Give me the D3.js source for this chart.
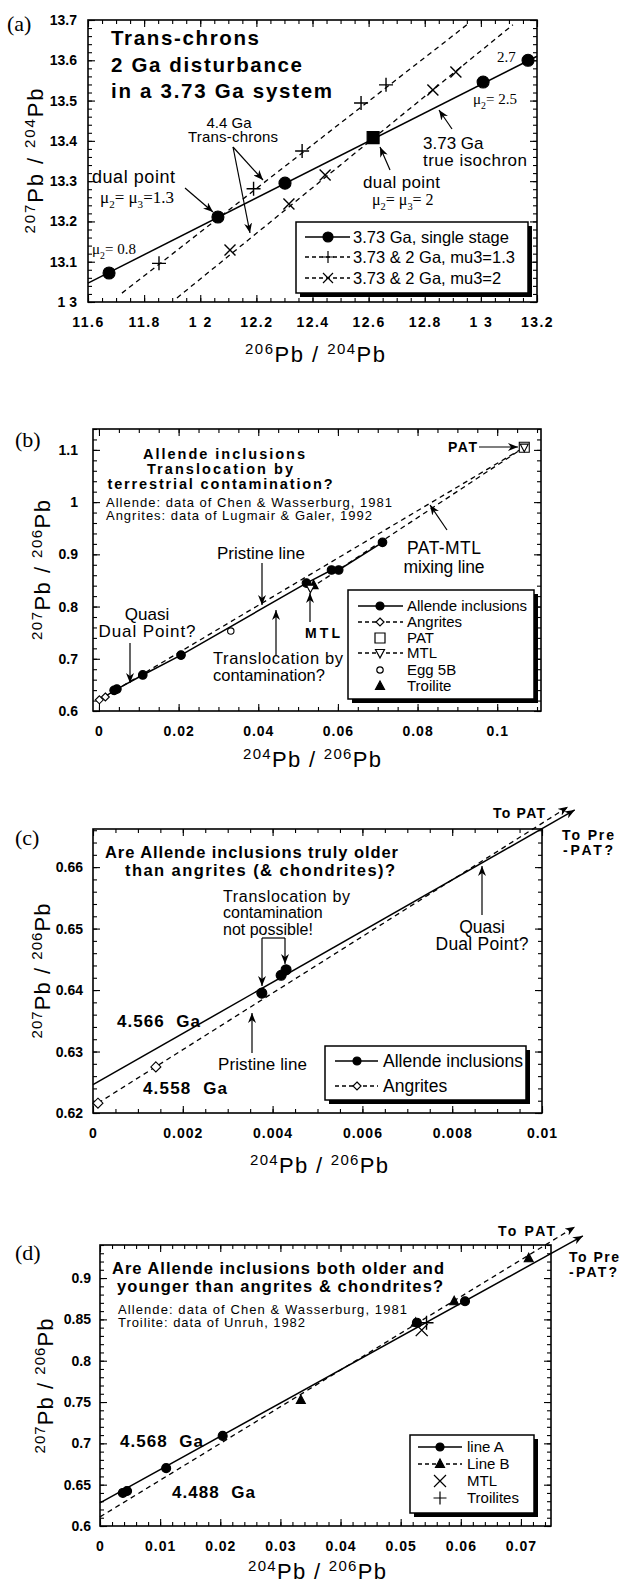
<!DOCTYPE html>
<html>
<head>
<meta charset="utf-8">
<script src="https://cdn.jsdelivr.net/npm/d3@7"></script>
<style>
body { margin: 0; background: #fff; }
svg { display: block; }
</style>
</head>
<body>
<div id="chart"></div>
<script>
// ---------- panel (a): trans-chrons, 207Pb/204Pb vs 206Pb/204Pb
const aXTicks = [11.6, 11.8, 12, 12.2, 12.4, 12.6, 12.8, 13, 13.2];
const aXLabels = ["11.6", "11.8", "1 2", "12.2", "12.4", "12.6", "12.8", "1 3", "13.2"];
const aYTicks = [13, 13.1, 13.2, 13.3, 13.4, 13.5, 13.6, 13.7];
const aYLabels = ["1 3", "13.1", "13.2", "13.3", "13.4", "13.5", "13.6", "13.7"];
const aSingleStage = [[11.675, 13.072], [12.063, 13.211], [12.302, 13.295], [13.008, 13.546], [13.168, 13.600]];
const aDualPoint = [[12.616, 13.408]];
const aSingleFit = [[11.6, 13.047], [13.2, 13.610]];
const aMu13 = [[11.853, 13.096], [12.19, 13.281], [12.363, 13.375], [12.573, 13.494], [12.662, 13.539]];
const aMu13Fit = [[11.721, 13.022], [12.95, 13.688]];
const aMu2 = [[12.106, 13.129], [12.316, 13.243], [12.445, 13.315], [12.829, 13.526], [12.911, 13.571]];
const aMu2Fit = [[11.917, 13.010], [13.114, 13.688]];
const aLegend = ["3.73 Ga, single stage", "3.73 & 2 Ga, mu3=1.3", "3.73 & 2 Ga, mu3=2"];

// ---------- panel (b): Allende inclusions, 207Pb/206Pb vs 204Pb/206Pb
const bXTicks = [0, 0.02, 0.04, 0.06, 0.08, 0.1];
const bXLabels = ["0", "0.02", "0.04", "0.06", "0.08", "0.1"];
const bYTicks = [0.6, 0.7, 0.8, 0.9, 1, 1.1];
const bYLabels = ["0.6", "0.7", "0.8", "0.9", "1", "1.1"];
const bAllende = [[0.0038, 0.6395], [0.0045, 0.642], [0.011, 0.669], [0.0206, 0.707], [0.0521, 0.845], [0.0584, 0.870], [0.0602, 0.870], [0.0712, 0.923]];
const bAngrites = [[0.0001, 0.6215], [0.0016, 0.6268]];
const bPAT = [[0.1068, 1.105]];
const bMTL = [[0.0531, 0.835], [0.1068, 1.105]];
const bEgg5B = [[0.0331, 0.753]];
const bTroilite = [[0.0539, 0.841]];
const bLegend = ["Allende inclusions", "Angrites", "PAT", "MTL", "Egg 5B", "Troilite"];

// ---------- panel (c): close-up near the origin
const cXTicks = [0, 0.002, 0.004, 0.006, 0.008, 0.01];
const cXLabels = ["0", "0.002", "0.004", "0.006", "0.008", "0.01"];
const cYTicks = [0.62, 0.63, 0.64, 0.65, 0.66];
const cYLabels = ["0.62", "0.63", "0.64", "0.65", "0.66"];
const cAllende = [[0.00376, 0.6395], [0.00419, 0.6424], [0.0043, 0.6433]];
const cAngrites = [[0.00011, 0.6216], [0.0014, 0.6275]];
const cFit4566 = [[0, 0.6246], [0.01073, 0.6693]];
const cFit4558 = [[0.00011, 0.6216], [0.01058, 0.6698]];
const cLegend = ["Allende inclusions", "Angrites"];

// ---------- panel (d): line A / line B
const dXTicks = [0, 0.01, 0.02, 0.03, 0.04, 0.05, 0.06, 0.07];
const dXLabels = ["0", "0.01", "0.02", "0.03", "0.04", "0.05", "0.06", "0.07"];
const dYTicks = [0.6, 0.65, 0.7, 0.75, 0.8, 0.85, 0.9];
const dYLabels = ["0.6", "0.65", "0.7", "0.75", "0.8", "0.85", "0.9"];
const dLineA = [[0.0038, 0.640], [0.0045, 0.6424], [0.011, 0.670], [0.0204, 0.709], [0.0527, 0.846], [0.0607, 0.872]];
const dLineB = [[0.0334, 0.7525], [0.0525, 0.846], [0.0589, 0.872], [0.0713, 0.924]];
const dMTL = [[0.0535, 0.837]];
const dTroilites = [[0.0543, 0.846]];
const dFitA = [[0, 0.628], [0.0803, 0.951]];
const dFitB = [[0, 0.611], [0.079, 0.962]];
const dLegend = ["line A", "Line B", "MTL", "Troilites"];

const FONT = '"Liberation Sans", Arial, Helvetica, sans-serif';
const SERIF = '"Liberation Serif", "Times New Roman", serif';

const svg = d3.select("#chart").append("svg")
    .attr("width", 624).attr("height", 1586)
    .attr("font-family", FONT);

svg.append("defs").append("marker")
    .attr("id", "ah").attr("viewBox", "0 0 10 8").attr("refX", 10).attr("refY", 4)
    .attr("markerWidth", 10).attr("markerHeight", 8)
    .attr("markerUnits", "userSpaceOnUse").attr("orient", "auto")
  .append("path").attr("d", "M0,0 L10,4 L0,8 L3,4 Z").attr("fill", "#000");

function steps(a, b, s)
{
    const n = Math.round((b - a) / s);
    return d3.range(n + 1).map(i => +(a + i * s).toFixed(6));
}

function makePanel(box, xDomain, yDomain)
{
    return {
        x: d3.scaleLinear().domain(xDomain).range([box.left, box.left + box.width]),
        y: d3.scaleLinear().domain(yDomain).range([box.top + box.height, box.top])
    };
}

function drawAxes(p, c)
{
    const [xl, xr] = p.x.range();
    const [yb, yt] = p.y.range();
    const g = svg.append("g");

    function ticks(axis, t, vals, size, labels, pad)
    {
        const a = g.append("g").attr("transform", t)
            .call(axis.tickValues(vals).tickSize(-size).tickPadding(pad || 3)
                .tickFormat(labels ? (d, i) => labels[i] : () => ""));
        a.select(".domain").remove();
        a.selectAll("line").attr("stroke-width", 1.1);
        a.attr("font-family", FONT).attr("font-size", 14).attr("font-weight", "bold");
        return a;
    }

    ticks(d3.axisBottom(p.x), `translate(0,${yb})`, c.xMinor, 4);
    ticks(d3.axisTop(p.x), `translate(0,${yt})`, c.xMinor, 4);
    ticks(d3.axisLeft(p.y), `translate(${xl},0)`, c.yMinor, 4);
    ticks(d3.axisRight(p.y), `translate(${xr},0)`, c.yMinor, 4);
    const xa = ticks(d3.axisBottom(p.x), `translate(0,${yb})`, c.xTicks, 7, c.xLabels, 15);
    if (c.xSpacing) xa.selectAll("text").attr("letter-spacing", c.xSpacing);
    ticks(d3.axisTop(p.x), `translate(0,${yt})`, c.xTicks, 7);
    ticks(d3.axisLeft(p.y), `translate(${xl},0)`, c.yTicks, 7, c.yLabels, c.yPad);
    ticks(d3.axisRight(p.y), `translate(${xr},0)`, c.yTicks, 7);

    g.append("rect").attr("x", xl).attr("y", yt).attr("width", xr - xl).attr("height", yb - yt)
        .attr("fill", "none").attr("stroke", "#000").attr("stroke-width", 1.6);
}

// "207Pb / 204Pb" style axis title with superscript mass numbers
function isoTitle(x, y, top, bottom, rotate, len)
{
    const t = svg.append("text").attr("text-anchor", "middle").attr("font-size", 22)
        .attr("transform", `translate(${x},${y})` + (rotate ? " rotate(-90)" : ""))
        .attr("textLength", len).attr("lengthAdjust", "spacing");
    t.append("tspan").attr("font-size", 15).attr("dy", -8).text(top);
    t.append("tspan").attr("dy", 8).text("Pb / ");
    t.append("tspan").attr("font-size", 15).attr("dy", -8).text(bottom);
    t.append("tspan").attr("dy", 8).text("Pb");
}

function label(x, y, text, o = {})
{
    return svg.append("text").attr("x", x).attr("y", y)
        .attr("font-size", o.size || 16)
        .attr("font-weight", o.bold ? "bold" : null)
        .attr("font-family", o.serif ? SERIF : FONT)
        .attr("text-anchor", o.anchor || "start")
        .attr("textLength", o.len || null)
        .attr("lengthAdjust", o.len ? "spacing" : null)
        .text(text);
}

// mu-subscript labels, e.g. μ2 = μ3 = 1.3
function muLabel(x, y, parts, size)
{
    const t = svg.append("text").attr("x", x).attr("y", y)
        .attr("font-family", SERIF).attr("font-size", size);
    let shifted = false;
    parts.forEach(([s, sub]) => {
        const sp = t.append("tspan").text(s);
        if (sub && !shifted) { sp.attr("dy", size * 0.3).attr("font-size", size * 0.65); shifted = true; }
        else if (sub) { sp.attr("font-size", size * 0.65); }
        else if (shifted) { sp.attr("dy", -size * 0.3); shifted = false; }
    });
}

function arrow(x1, y1, x2, y2)
{
    svg.append("line").attr("x1", x1).attr("y1", y1).attr("x2", x2).attr("y2", y2)
        .attr("stroke", "#000").attr("stroke-width", 1.2).attr("marker-end", "url(#ah)");
}

function shape(type, s)
{
    switch (type)
    {
        case "plus": return `M${-s},0H${s}M0,${-s}V${s}`;
        case "cross": return `M${-s},${-s}L${s},${s}M${-s},${s}L${s},${-s}`;
        case "diamond": return `M0,${-s}L${s},0L0,${s}L${-s},0Z`;
        case "tri": return `M0,${-s}L${s * 0.9},${s * 0.7}L${-s * 0.9},${s * 0.7}Z`;
        case "tridown": return `M0,${s}L${s * 0.9},${-s * 0.7}L${-s * 0.9},${-s * 0.7}Z`;
        case "square": case "box": return `M${-s},${-s}H${s}V${s}H${-s}Z`;
        default: return d3.symbol(d3.symbolCircle, Math.PI * s * s)();
    }
}

function fillOf(type)
{
    return (type === "dot" || type === "square" || type === "tri") ? "#000"
        : (type === "plus" || type === "cross") ? "none" : "#fff";
}

function points(p, data, type, s)
{
    svg.append("g").selectAll("path").data(data).join("path")
        .attr("transform", d => `translate(${p.x(d[0])},${p.y(d[1])})`)
        .attr("d", shape(type, s))
        .attr("fill", fillOf(type)).attr("stroke", "#000")
        .attr("stroke-width", (type === "plus" || type === "cross") ? 1.4 : 1.1);
}

function line(p, data, dashed, withArrow)
{
    svg.append("path").datum(data)
        .attr("d", d3.line().x(d => p.x(d[0])).y(d => p.y(d[1])))
        .attr("fill", "none").attr("stroke", "#000").attr("stroke-width", dashed ? 1.3 : 1.5)
        .attr("stroke-dasharray", dashed ? "5,4" : null)
        .attr("marker-end", withArrow ? "url(#ah)" : null);
}

function legend(box, labels, rows, o)
{
    svg.append("rect").attr("x", box.x + 4).attr("y", box.y + 4)
        .attr("width", box.w).attr("height", box.h).attr("fill", "#000");
    svg.append("rect").attr("x", box.x).attr("y", box.y)
        .attr("width", box.w).attr("height", box.h)
        .attr("fill", "#fff").attr("stroke", "#000").attr("stroke-width", 1.5);
    rows.forEach((r, i) => {
        const y = o.rowY[i];
        if (r.line)
        {
            svg.append("line").attr("x1", o.x1).attr("x2", o.x2).attr("y1", y).attr("y2", y)
                .attr("stroke", "#000").attr("stroke-width", 1.3)
                .attr("stroke-dasharray", r.line === "dashed" ? "4,3" : null);
        }
        if (r.sym)
        {
            svg.append("path").attr("transform", `translate(${o.sx},${y})`)
                .attr("d", shape(r.sym, r.s)).attr("fill", fillOf(r.sym))
                .attr("stroke", "#000").attr("stroke-width", 1.2);
        }
        svg.append("text").attr("x", o.tx).attr("y", y + o.size * 0.36)
            .attr("font-size", o.size).text(labels[i]);
    });
}

// ================= panel (a)
const pa = makePanel({ left: 88, top: 20, width: 449, height: 282 }, [11.6, 13.2], [13, 13.7]);
drawAxes(pa, { xTicks: aXTicks, xLabels: aXLabels, yTicks: aYTicks, yLabels: aYLabels,
    xMinor: steps(11.6, 13.2, 0.05), yMinor: steps(13, 13.7, 0.02), yPad: 11, xSpacing: 1.5 });
line(pa, aSingleFit, false);
line(pa, aMu13Fit, true);
line(pa, aMu2Fit, true);
points(pa, aSingleStage, "dot", 6);
points(pa, aDualPoint, "square", 6);
points(pa, aMu13, "plus", 7);
points(pa, aMu2, "cross", 5.5);
legend({ x: 296, y: 222, w: 232, h: 71 }, aLegend,
    [{ line: "solid", sym: "dot", s: 5 }, { line: "dashed", sym: "plus", s: 6 }, { line: "dashed", sym: "cross", s: 5 }],
    { rowY: [237, 257, 278], x1: 305, x2: 350, sx: 328, tx: 353, size: 16.5 });

label(7, 31, "(a)", { serif: true, size: 22 });
isoTitle(43, 161, "207", "204", true, 145);
isoTitle(315, 362, "206", "204", false, 140);
label(111, 45, "Trans-chrons", { size: 20.5, bold: true, len: 148 });
label(111, 72, "2 Ga disturbance", { size: 20.5, bold: true, len: 191 });
label(111, 98, "in a 3.73 Ga system", { size: 20.5, bold: true, len: 221 });
label(229, 128, "4.4 Ga", { size: 15, anchor: "middle" });
label(233, 142, "Trans-chrons", { size: 15, anchor: "middle", len: 90 });
arrow(233, 147, 263, 180);
arrow(233, 147, 250, 233);
label(92, 183, "dual point", { size: 18, len: 83 });
muLabel(100, 203, [["μ"], ["2", 1], ["= μ"], ["3", 1], ["=1.3"]], 17);
arrow(185, 188, 213, 212);
muLabel(92, 254, [["μ"], ["2", 1], ["= 0.8"]], 15);
label(497, 62, "2.7", { serif: true, size: 15 });
muLabel(473, 104, [["μ"], ["2", 1], ["= 2.5"]], 15);
label(423, 149, "3.73 Ga", { size: 17 });
label(423, 166, "true isochron", { size: 17, len: 104 });
arrow(452, 129, 439, 110);
label(363, 188, "dual point", { size: 17, len: 77 });
muLabel(372, 205, [["μ"], ["2", 1], ["= μ"], ["3", 1], ["= 2"]], 16);
arrow(390, 170, 380, 147);

// ================= panel (b)
const pb = makePanel({ left: 93, top: 429, width: 448, height: 282 }, [-0.0015, 0.111], [0.6, 1.14]);
drawAxes(pb, { xTicks: bXTicks, xLabels: bXLabels, yTicks: bYTicks, yLabels: bYLabels,
    xMinor: steps(0, 0.11, 0.005), yMinor: steps(0.6, 1.14, 0.02), yPad: 15, xSpacing: 1 });
line(pb, [bAngrites[0], bPAT[0]], true);
line(pb, bMTL, true);
line(pb, bAllende, false);
points(pb, bAllende, "dot", 4.3);
points(pb, bAngrites, "diamond", 4);
points(pb, bEgg5B, "ring", 3.2);
points(pb, bTroilite, "tri", 5);
points(pb, bPAT, "box", 5);
points(pb, bMTL, "tridown", 4.5);
legend({ x: 348, y: 590, w: 186, h: 109 }, bLegend,
    [{ line: "solid", sym: "dot", s: 4 }, { line: "dashed", sym: "diamond", s: 4 }, { sym: "box", s: 5 },
     { line: "dashed", sym: "tridown", s: 5 }, { sym: "ring", s: 3.2 }, { sym: "tri", s: 5 }],
    { rowY: [606, 622, 638, 653, 670, 686], x1: 358, x2: 403, sx: 380, tx: 407, size: 15 });

label(15, 447, "(b)", { serif: true, size: 22 });
isoTitle(50, 570, "207", "206", true, 140);
isoTitle(312, 767, "204", "206", false, 138);
label(224, 459, "Allende inclusions", { size: 14.5, bold: true, anchor: "middle", len: 162 });
label(220, 474, "Translocation by", { size: 14.5, bold: true, anchor: "middle", len: 146 });
label(220, 489, "terrestrial contamination?", { size: 14.5, bold: true, anchor: "middle", len: 225 });
label(106, 507, "Allende: data of Chen & Wasserburg, 1981", { size: 13, len: 286 });
label(106, 520, "Angrites: data of Lugmair & Galer, 1992", { size: 13, len: 266 });
label(261, 559, "Pristine line", { size: 17, anchor: "middle", len: 88 });
arrow(262, 563, 262, 605);
label(213, 664, "Translocation by", { size: 16.5, len: 130 });
label(213, 681, "contamination?", { size: 16.5 });
arrow(276, 655, 276, 610);
label(147, 620, "Quasi", { size: 17, anchor: "middle" });
label(147, 637, "Dual Point?", { size: 17, anchor: "middle", len: 97 });
arrow(130, 643, 130, 683);
label(305, 638, "MTL", { size: 14, bold: true, len: 35 });
arrow(310, 622, 310, 593);
label(444, 554, "PAT-MTL", { size: 17.5, anchor: "middle", len: 74 });
label(444, 573, "mixing line", { size: 17.5, anchor: "middle", len: 81 });
arrow(447, 530, 430, 505);
label(448, 452, "PAT", { size: 14, bold: true, len: 29 });
arrow(479, 447, 518, 447);

// ================= panel (c)
const pc = makePanel({ left: 93, top: 829, width: 449, height: 284 }, [0, 0.01], [0.62, 0.6662]);
drawAxes(pc, { xTicks: cXTicks, xLabels: cXLabels, yTicks: cYTicks, yLabels: cYLabels,
    xMinor: steps(0, 0.01, 0.0005), yMinor: steps(0.62, 0.666, 0.002), yPad: 10, xSpacing: 1 });
line(pc, cFit4558, true, true);
line(pc, cFit4566, false, true);
points(pc, cAllende, "dot", 5);
points(pc, cAngrites, "diamond", 5);
legend({ x: 325, y: 1046, w: 201, h: 54 }, cLegend,
    [{ line: "solid", sym: "dot", s: 4 }, { line: "dashed", sym: "diamond", s: 4 }],
    { rowY: [1061, 1086], x1: 335, x2: 378, sx: 357, tx: 383, size: 17.5 });

label(15, 845, "(c)", { serif: true, size: 22 });
isoTitle(50, 971, "207", "206", true, 135);
isoTitle(319, 1173, "204", "206", false, 138);
label(105, 858, "Are Allende inclusions truly older", { size: 16.5, bold: true, len: 293 });
label(125, 876, "than angrites (& chondrites)?", { size: 16.5, bold: true, len: 270 });
label(223, 902, "Translocation by", { size: 16, len: 127 });
label(223, 918, "contamination", { size: 16 });
label(223, 935, "not possible!", { size: 16 });
svg.append("line").attr("x1", 262).attr("x2", 285).attr("y1", 938).attr("y2", 938)
    .attr("stroke", "#000").attr("stroke-width", 1.2);
arrow(262, 938, 262, 986);
arrow(285, 938, 285, 964);
label(117, 1027, "4.566\u00a0\u00a0Ga", { size: 17, bold: true, len: 83 });
label(143, 1094, "4.558\u00a0\u00a0Ga", { size: 17, bold: true, len: 84 });
label(218, 1070, "Pristine line", { size: 17, len: 89 });
arrow(252, 1053, 252, 1013);
label(482, 933, "Quasi", { size: 17.5, anchor: "middle" });
label(482, 950, "Dual Point?", { size: 17.5, anchor: "middle", len: 93 });
arrow(482, 915, 482, 866);
label(493, 818, "To PAT", { size: 14, bold: true, len: 52 });
label(562, 840, "To Pre", { size: 14, bold: true, len: 52 });
label(563, 855, "-PAT?", { size: 14, bold: true, len: 50 });

// ================= panel (d)
const pd = makePanel({ left: 100, top: 1245, width: 451, height: 281 }, [0, 0.075], [0.6, 0.94]);
drawAxes(pd, { xTicks: dXTicks, xLabels: dXLabels, yTicks: dYTicks, yLabels: dYLabels,
    xMinor: steps(0, 0.074, 0.002), yMinor: steps(0.6, 0.94, 0.01), yPad: 9, xSpacing: 1 });
line(pd, dFitB, true, true);
line(pd, dFitA, false, true);
points(pd, dLineA, "dot", 4.5);
points(pd, dLineB, "tri", 5);
points(pd, dMTL, "cross", 6);
points(pd, dTroilites, "plus", 7);
legend({ x: 410, y: 1435, w: 124, h: 78 }, dLegend,
    [{ line: "solid", sym: "dot", s: 4 }, { line: "dashed", sym: "tri", s: 5 }, { sym: "cross", s: 6 }, { sym: "plus", s: 6.5 }],
    { rowY: [1447, 1464, 1481, 1498], x1: 418, x2: 462, sx: 440, tx: 467, size: 15 });

label(15, 1260, "(d)", { serif: true, size: 22 });
isoTitle(53, 1386, "207", "206", true, 135);
isoTitle(317, 1579, "204", "206", false, 138);
label(112, 1274, "Are Allende inclusions both older and", { size: 16.5, bold: true, len: 332 });
label(117, 1292, "younger than angrites & chondrites?", { size: 16.5, bold: true, len: 326 });
label(118, 1314, "Allende: data of Chen & Wasserburg, 1981", { size: 13, len: 289 });
label(118, 1327, "Troilite: data of Unruh, 1982", { size: 13, len: 187 });
label(120, 1447, "4.568\u00a0\u00a0Ga", { size: 17, bold: true, len: 83 });
label(172, 1498, "4.488\u00a0\u00a0Ga", { size: 17, bold: true, len: 83 });
label(498, 1236, "To PAT", { size: 14, bold: true, len: 57 });
label(569, 1262, "To Pre", { size: 14, bold: true, len: 50 });
label(569, 1277, "-PAT?", { size: 14, bold: true, len: 48 });
</script>
</body>
</html>
